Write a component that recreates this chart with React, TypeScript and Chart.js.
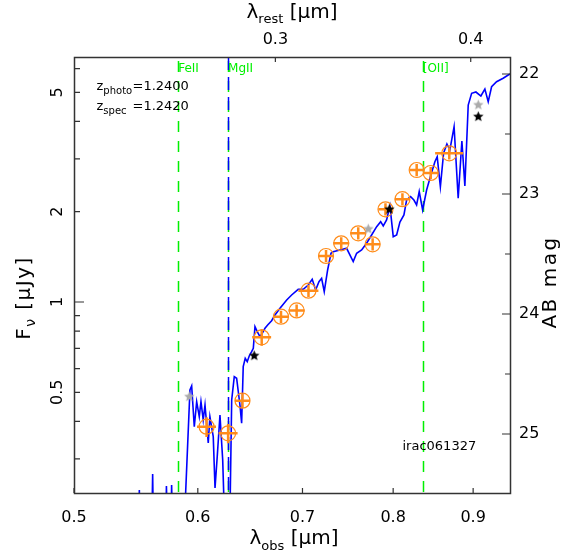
import { useEffect, useRef } from 'react';
import { Chart, registerables } from 'chart.js';
Chart.register(...registerables);

const FONT = '"DejaVu Sans", sans-serif';
const Z_PHOTO = 1.24;
const Z_SPEC = 1.242;

// axis ranges
const X_MIN = 0.5;
const X_MAX = 0.9502;
const Y_MIN = 0.2308;
const Y_MAX = 6.557;

// tick definitions
const obsTicks = [0.5, 0.6, 0.7, 0.8, 0.9];
const restTicks = [0.3, 0.4];
const fluxTicks = [0.3, 0.4, 0.5, 0.6, 0.7, 0.8, 0.9, 1, 2, 3, 4, 5, 6];
const fluxLabels = [0.5, 1, 2, 5];
const magTicks = [22, 22.5, 23, 23.5, 24, 24.5, 25];

// model spectrum (observed wavelength in micron, flux in microJy)
const modelLambda = [
  0.5195, 0.5494, 0.5505, 0.5514, 0.5604, 0.5614, 0.5623, 0.5721, 0.5729, 0.5742, 0.5766, 0.5773, 0.5785, 0.5873,
  0.5931, 0.5946, 0.5969, 0.599, 0.6013, 0.6028, 0.6048, 0.6064, 0.6093, 0.6108, 0.6138, 0.6154, 0.6174, 0.6199,
  0.6224, 0.6249, 0.6286, 0.6307, 0.6331, 0.6353, 0.6384, 0.64, 0.6415, 0.6434, 0.6453, 0.6472, 0.6495, 0.6511,
  0.6527, 0.6549, 0.6575, 0.6597, 0.6624, 0.665, 0.6689, 0.6722, 0.6772, 0.6839, 0.6889, 0.6956, 0.7008, 0.706,
  0.7101, 0.7137, 0.7172, 0.72, 0.7228, 0.7264, 0.73, 0.7324, 0.7397, 0.747, 0.7543, 0.7581, 0.7637, 0.7693,
  0.775, 0.7808, 0.7854, 0.7884, 0.7923, 0.7962, 0.8001, 0.8041, 0.808, 0.8128, 0.816, 0.8208, 0.8248, 0.8281,
  0.8313, 0.8355, 0.8404, 0.8445, 0.8507, 0.8536, 0.8576, 0.8617, 0.8659, 0.8697, 0.8751, 0.8804, 0.8852, 0.8891,
  0.8935, 0.898, 0.9037, 0.9103, 0.9157, 0.9202, 0.9248, 0.9316, 0.9407, 0.9477, 0.9528,
];
const modelFlux = [
  0.15, 0.15, 0.2362, 0.15, 0.15, 0.2672, 0.15, 0.15, 0.2436, 0.15, 0.15, 0.2455, 0.15, 0.15,
  0.5088, 0.5248, 0.3839, 0.4652, 0.4146, 0.4652, 0.4043, 0.4535, 0.3388, 0.4146, 0.3556, 0.2399, 0.305, 0.4201,
  0.2973, 0.15, 0.15, 0.4714, 0.5636, 0.5568, 0.4535, 0.3942, 0.6087, 0.6492, 0.6324, 0.6607, 0.6829, 0.701,
  0.8273, 0.7962, 0.7662, 0.7865, 0.8172, 0.8381, 0.8662, 0.9051, 0.9528, 1.0155, 1.0552, 1.1023, 1.1023, 1.1394,
  1.1903, 1.0965, 1.1686, 1.1995, 1.0822, 1.2785, 1.4535, 1.4715, 1.4909, 1.5101, 1.3627, 1.4535, 1.4909, 1.5693,
  1.6724, 1.7824, 1.852, 1.792, 1.8763, 2.0893, 1.6507, 1.6724, 1.8478, 1.9498, 2.1878, 2.2439, 2.1878, 2.1054,
  2.3352, 2.026, 2.3622, 2.5843, 2.9358, 3.0504, 2.4229, 3.1383, 3.3625, 3.2113, 3.8397, 2.2167, 3.4408, 2.436,
  4.5354, 4.9626, 5.0119, 4.8606, 5.1286, 4.6515, 5.22, 5.4247, 5.5681, 5.7084, 5.7967,
];

// observed photometry
const obsLambda = [0.6078, 0.6274, 0.6408, 0.6592, 0.6782, 0.694, 0.7062, 0.7247, 0.7411, 0.7599, 0.7762, 0.791, 0.811, 0.8282, 0.8455, 0.8689];
const obsFlux = [0.3839, 0.365, 0.4688, 0.7627, 0.8933, 0.937, 1.0905, 1.4236, 1.569, 1.694, 1.557, 2.037, 2.201, 2.754, 2.692, 3.13];
const obsLambdaErr = [0.0085, 0.0088, 0.0071, 0.0092, 0.008, 0.0082, 0.0104, 0.0085, 0.0087, 0.0089, 0.0086, 0.0082, 0.009, 0.0085, 0.0093, 0.0179];
const obsFluxErr = [0.029, 0.027, 0.026, 0.048, 0.042, 0.044, 0.051, 0.067, 0.074, 0.08, 0.073, 0.096, 0.103, 0.129, 0.127, 0.147];

// model photometry (stars)
const grayStarLambda = [0.5925, 0.7712, 0.9068];
const grayStarFlux = [0.4834, 1.751, 4.537];
const blackStarLambda = [0.652, 0.7955, 0.9068];
const blackStarFlux = [0.662, 2.037, 4.147];

// emission / absorption line markers (rest wavelength, micron)
const lineNames = ['FeII', 'MgII', '[OII]'];
const lineRest = [0.26, 0.2798, 0.3727];

const ORANGE = '#ff8c1a';
const GREEN = '#00f000';

const magToFlux = (m: number) => Math.pow(10, (23.9 - m) / 2.5);

function makeStar(color: string, r: number) {
  const c = document.createElement('canvas');
  const s = Math.ceil(2 * r + 2);
  c.width = s;
  c.height = s;
  const g = c.getContext('2d')!;
  g.fillStyle = color;
  g.beginPath();
  for (let i = 0; i < 10; i++) {
    const a = -Math.PI / 2 + (i * Math.PI) / 5;
    const rr = i % 2 === 0 ? r : r * 0.45;
    g.lineTo(s / 2 + rr * Math.cos(a), s / 2 + rr * Math.sin(a));
  }
  g.closePath();
  g.fill();
  return c;
}

type Seg = { t: string; sub?: boolean };
function drawSubText(ctx: CanvasRenderingContext2D, x: number, y: number, segs: Seg[], mainSize: number, subSize: number, subDy: number, align: 'left' | 'center', spacing = 0) {
  (ctx as any).letterSpacing = `${spacing}px`;
  const widths = segs.map((s) => {
    ctx.font = `${s.sub ? subSize : mainSize}px ${FONT}`;
    return ctx.measureText(s.t).width;
  });
  const total = widths.reduce((a, b) => a + b, 0);
  let cx = align === 'center' ? x - total / 2 : x;
  ctx.textAlign = 'left';
  ctx.textBaseline = 'alphabetic';
  segs.forEach((s, i) => {
    ctx.font = `${s.sub ? subSize : mainSize}px ${FONT}`;
    ctx.fillText(s.t, cx, s.sub ? y + subDy : y);
    cx += widths[i];
  });
  (ctx as any).letterSpacing = '0px';
}

const sedPlugin = {
  id: 'sedPlugin',
  beforeDatasetsDraw(chart: any) {
    const { ctx, chartArea: ca, scales } = chart;
    ctx.save();
    ctx.beginPath();
    ctx.rect(ca.left, ca.top, ca.right - ca.left, ca.bottom - ca.top);
    ctx.clip();
    lineRest.forEach((r, i) => {
      const px = Math.round(scales.x.getPixelForValue(r * (1 + Z_SPEC))) + 0.5;
      ctx.lineWidth = 1.5;
      ctx.strokeStyle = GREEN;
      ctx.setLineDash([11, 9]);
      ctx.lineDashOffset = -4;
      ctx.beginPath();
      ctx.moveTo(px, ca.top);
      ctx.lineTo(px, ca.bottom);
      ctx.stroke();
      if (lineNames[i] === 'MgII') {
        ctx.strokeStyle = '#0000ff';
        ctx.setLineDash([13, 7]);
        ctx.lineDashOffset = 0;
        ctx.beginPath();
        ctx.moveTo(px, ca.top);
        ctx.lineTo(px, ca.bottom);
        ctx.stroke();
      }
    });
    ctx.restore();
  },
  afterDatasetDraw(chart: any, args: any) {
    if (args.index !== 1) return;
    const { ctx, scales } = chart;
    ctx.save();
    ctx.strokeStyle = ORANGE;
    ctx.lineWidth = 2.5;
    obsLambda.forEach((l, i) => {
      const px = scales.x.getPixelForValue(l);
      const py = scales.y.getPixelForValue(obsFlux[i]);
      const x0 = scales.x.getPixelForValue(l - obsLambdaErr[i]);
      const x1 = scales.x.getPixelForValue(l + obsLambdaErr[i]);
      const y0 = scales.y.getPixelForValue(obsFlux[i] - obsFluxErr[i]);
      const y1 = scales.y.getPixelForValue(obsFlux[i] + obsFluxErr[i]);
      ctx.beginPath();
      ctx.moveTo(x0, py);
      ctx.lineTo(x1, py);
      ctx.moveTo(px, y0);
      ctx.lineTo(px, y1);
      ctx.stroke();
    });
    ctx.restore();
  },
  afterDraw(chart: any) {
    const { ctx, chartArea: ca, scales } = chart;
    ctx.save();
    // frame
    ctx.strokeStyle = '#333';
    ctx.lineWidth = 1.5;
    ctx.setLineDash([]);
    ctx.strokeRect(ca.left + 0.5, ca.top + 0.5, ca.right - ca.left, ca.bottom - ca.top);
    // ticks
    ctx.lineWidth = 1.2;
    ctx.beginPath();
    obsTicks.forEach((v) => {
      const px = scales.x.getPixelForValue(v);
      ctx.moveTo(px, ca.bottom);
      ctx.lineTo(px, ca.bottom - 5);
    });
    restTicks.forEach((r) => {
      const px = scales.x.getPixelForValue(r * (1 + Z_SPEC));
      ctx.moveTo(px, ca.top);
      ctx.lineTo(px, ca.top + 5);
    });
    fluxTicks.forEach((v) => {
      const py = scales.y.getPixelForValue(v);
      const len = v === 1 ? 10 : 6;
      ctx.moveTo(ca.left, py);
      ctx.lineTo(ca.left + len, py);
    });
    magTicks.forEach((m) => {
      const py = scales.y.getPixelForValue(magToFlux(m));
      const len = Number.isInteger(m) ? 8 : 5;
      ctx.moveTo(ca.right, py);
      ctx.lineTo(ca.right - len, py);
    });
    ctx.stroke();

    ctx.fillStyle = '#000';
    // left rotated tick labels
    ctx.font = `16px ${FONT}`;
    fluxLabels.forEach((v) => {
      const py = scales.y.getPixelForValue(v);
      ctx.save();
      ctx.translate(ca.left - 12, py);
      ctx.rotate(-Math.PI / 2);
      ctx.textAlign = 'center';
      ctx.textBaseline = 'alphabetic';
      ctx.fillText(String(v), 0, 0);
      ctx.restore();
    });

    // axis titles
    drawSubText(ctx, 294, 544, [{ t: 'λ' }, { t: 'obs', sub: true }, { t: ' [μm]' }], 20, 13, 6, 'center');
    drawSubText(ctx, 292, 18, [{ t: 'λ' }, { t: 'rest', sub: true }, { t: ' [μm]' }], 20, 13, 5, 'center');
    ctx.save();
    ctx.translate(30, 298);
    ctx.rotate(-Math.PI / 2);
    drawSubText(ctx, 0, 0, [{ t: 'F' }, { t: 'ν', sub: true }, { t: ' [μJy]' }], 20, 14, 5, 'center', 1.5);
    ctx.restore();
    ctx.save();
    ctx.translate(556, 282);
    ctx.rotate(-Math.PI / 2);
    drawSubText(ctx, 0, 0, [{ t: 'AB mag' }], 20, 14, 5, 'center', 2.5);
    ctx.restore();

    // redshift annotations
    drawSubText(ctx, 96.5, 89.5, [{ t: 'z' }, { t: 'photo', sub: true }], 13, 10, 4, 'left');
    ctx.font = `13px ${FONT}`;
    ctx.textAlign = 'left';
    ctx.fillText('=' + Z_PHOTO.toFixed(4), 132.5, 89.5);
    drawSubText(ctx, 96.5, 109.5, [{ t: 'z' }, { t: 'spec', sub: true }], 13, 10, 4, 'left');
    ctx.font = `13px ${FONT}`;
    ctx.fillText('=' + Z_SPEC.toFixed(4), 132.5, 109.5);

    // object id
    ctx.fillText('irac061327', 402.5, 450);

    // line labels
    ctx.fillStyle = GREEN;
    ctx.font = `12px ${FONT}`;
    lineRest.forEach((r, i) => {
      const px = scales.x.getPixelForValue(r * (1 + Z_SPEC));
      ctx.fillText(lineNames[i], px, 72);
    });
    ctx.restore();
  },
};

export default function App() {
  const ref = useRef<HTMLCanvasElement>(null);
  useEffect(() => {
    document.body.style.margin = '0';
    const tickFont = { family: FONT, size: 16 };
    const noGrid = { display: false, drawTicks: false };
    const chart = new Chart(ref.current!, {
      type: 'scatter',
      data: {
        datasets: [
          {
            label: 'model',
            data: modelLambda.map((l, i) => ({ x: l, y: modelFlux[i] })),
            showLine: true,
            borderColor: '#0000ff',
            borderWidth: 1.6,
            pointRadius: 0,
            fill: false,
            order: 4,
          } as any,
          {
            label: 'observed',
            data: obsLambda.map((l, i) => ({ x: l, y: obsFlux[i] })),
            pointStyle: 'circle',
            pointRadius: 7.5,
            borderColor: ORANGE,
            borderWidth: 1.2,
            backgroundColor: 'rgba(0,0,0,0)',
            order: 3,
          },
          {
            label: 'gray stars',
            data: grayStarLambda.map((l, i) => ({ x: l, y: grayStarFlux[i] })),
            pointStyle: makeStar('#aaaaaa', 5.5),
            order: 2,
          } as any,
          {
            label: 'black stars',
            data: blackStarLambda.map((l, i) => ({ x: l, y: blackStarFlux[i] })),
            pointStyle: makeStar('#000000', 5.5),
            order: 1,
          } as any,
        ],
      },
      options: {
        animation: false,
        responsive: false,
        devicePixelRatio: 1,
        events: [],
        layout: { padding: 0 },
        plugins: { legend: { display: false }, tooltip: { enabled: false } },
        scales: {
          x: {
            type: 'logarithmic',
            position: 'bottom',
            min: X_MIN,
            max: X_MAX,
            grid: noGrid,
            border: { display: false },
            afterBuildTicks: (s: any) => {
              s.ticks = obsTicks.map((v) => ({ value: v }));
            },
            afterFit: (s: any) => {
              s.height = 63;
            },
            ticks: {
              autoSkip: false,
              maxRotation: 0,
              minRotation: 0,
              padding: 15,
              color: '#000',
              font: tickFont,
              callback: (v: any) => Number(v).toFixed(1),
            },
          },
          x2: {
            type: 'logarithmic',
            axis: 'x',
            position: 'top',
            min: X_MIN,
            max: X_MAX,
            grid: noGrid,
            border: { display: false },
            afterBuildTicks: (s: any) => {
              s.ticks = restTicks.map((v) => ({ value: v * (1 + Z_SPEC) }));
            },
            afterFit: (s: any) => {
              s.height = 57;
            },
            ticks: {
              autoSkip: false,
              maxRotation: 0,
              minRotation: 0,
              padding: 8,
              color: '#000',
              font: tickFont,
              callback: (_v: any, i: number) => restTicks[i].toFixed(1),
            },
          },
          y: {
            type: 'logarithmic',
            position: 'left',
            min: Y_MIN,
            max: Y_MAX,
            grid: noGrid,
            border: { display: false },
            ticks: { display: false },
            afterFit: (s: any) => {
              s.width = 74;
            },
          },
          y2: {
            type: 'logarithmic',
            axis: 'y',
            position: 'right',
            min: Y_MIN,
            max: Y_MAX,
            grid: noGrid,
            border: { display: false },
            afterBuildTicks: (s: any) => {
              s.ticks = magTicks.map((m) => ({ value: magToFlux(m) }));
            },
            afterFit: (s: any) => {
              s.width = 57;
            },
            ticks: {
              autoSkip: false,
              padding: 9,
              color: '#000',
              font: tickFont,
              callback: (_v: any, i: number) => (Number.isInteger(magTicks[i]) ? String(magTicks[i]) : ''),
            },
          },
        } as any,
      },
      plugins: [sedPlugin],
    });
    return () => chart.destroy();
  }, []);
  return (
    <div style={{ width: 567, height: 556 }}>
      <canvas ref={ref} width={567} height={556} style={{ display: 'block', width: 567, height: 556 }} />
    </div>
  );
}
